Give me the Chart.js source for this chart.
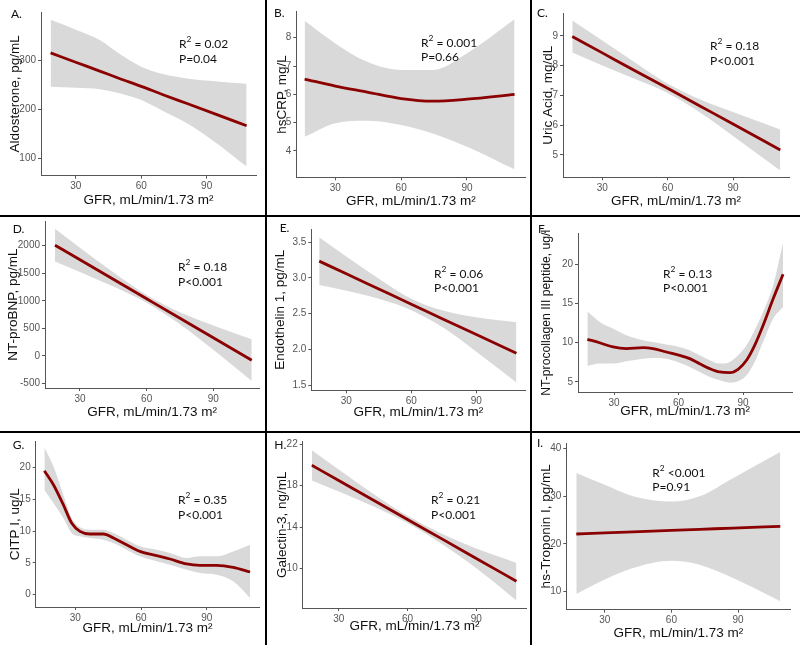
<!DOCTYPE html>
<html>
<head>
<meta charset="utf-8">
<script src="https://cdn.jsdelivr.net/npm/chart.js@4.4.1/dist/chart.umd.min.js"></script>
<style>
  body { margin: 0; background: #fff; width: 800px; height: 645px; position: relative; overflow: hidden; }
  .cell { position: absolute; }
  .cell canvas { display: block; }
  .rule { position: absolute; background: #000; }
  .note { position: absolute; font-family: Lato, 'Open Sans', sans-serif; font-size: 12px; color: #111;
          line-height: 14px; white-space: nowrap; transform: translateY(-50%); }
  .note sup { font-size: 70%; line-height: 0; position: relative; top: -0.1em; vertical-align: super; }
</style>
</head>
<body>
<script>
const gfrTicks = [30, 60, 90];

// A. Aldosterone
const gfrA = [18.5, 30, 41, 50, 60, 70, 81, 95, 108.3];
const fitA = [315, 296, 278, 263, 247, 230, 212, 189, 167];
const hiA = [382, 362, 341, 313, 287, 272, 263, 257, 252];
const loA = [246, 244, 241, 233, 219, 197, 172, 130, 84];
const yTicksA = [100, 200, 300];

// B. hsCRP
const gfrB = [16, 30, 44.5, 60, 74.4, 90, 111.7];
const fitB = [6.54, 6.29, 6.08, 5.85, 5.76, 5.83, 6.0];
const hiB = [8.6, 7.8, 7.15, 6.86, 6.86, 7.45, 8.65];
const loB = [4.5, 4.98, 5.07, 4.92, 4.62, 4.15, 3.35];
const yTicksB = [4, 5, 6, 7, 8];

// C. Uric acid
const gfrC = [16.2, 30, 45, 60, 75, 90, 111.7];
const fitC = [8.98, 8.43, 7.83, 7.24, 6.64, 6.04, 5.17];
const hiC = [9.52, 8.85, 8.11, 7.40, 6.86, 6.44, 5.86];
const loC = [8.44, 8.01, 7.55, 7.08, 6.42, 5.64, 4.48];
const yTicksC = [5, 6, 7, 8, 9];

// D. NT-proBNP
const gfrD = [18.75, 30, 45, 60, 75, 90, 107.3];
const fitD = [2010, 1744, 1390, 1036, 682, 328, -80];
const hiD = [2310, 1965, 1520, 1105, 790, 550, 300];
const loD = [1715, 1525, 1260, 965, 575, 110, -460];
const yTicksD = [-500, 0, 500, 1000, 1500, 2000];

// E. Endothelin 1
const gfrE = [17.5, 30, 45, 60, 75, 90, 108.5];
const fitE = [3.235, 3.058, 2.846, 2.634, 2.42, 2.21, 1.947];
const hiE = [3.57, 3.30, 2.99, 2.71, 2.54, 2.45, 2.38];
const loE = [2.90, 2.82, 2.71, 2.55, 2.30, 1.97, 1.54];
const yTicksE = [1.5, 2.0, 2.5, 3.0, 3.5];

// F. NT-procollagen III peptide
const gfrF = [17.6, 23.3, 29.5, 35.7, 43.5, 48.1, 54.3, 60.5, 65.2, 69.8, 74.5, 79.1, 83.8, 87.7, 91.6, 95.4, 99.3, 104, 108.6];
const fitF = [10.44, 10.0, 9.46, 9.25, 9.37, 9.25, 8.82, 8.4, 7.97, 7.33, 6.7, 6.27, 6.19, 6.61, 7.76, 9.67, 12.2, 15.6, 18.73];
const hiF = [14.0, 12.65, 11.8, 10.95, 10.31, 10.1, 9.76, 9.46, 9.04, 8.4, 7.76, 7.34, 7.55, 8.4, 9.67, 11.59, 13.92, 17.32, 22.76];
const loF = [7.04, 7.34, 7.34, 7.63, 7.97, 8.06, 7.97, 7.46, 6.91, 6.27, 5.64, 5.21, 4.91, 5.08, 5.85, 7.55, 10.1, 13.07, 14.56];
const yTicksF = [5, 10, 15, 20];

// G. CITP I
const gfrG = [15.85, 20, 24.5, 28.3, 32.1, 36.7, 42.8, 47.4, 53.4, 59.5, 67.1, 73.2, 80.8, 86.9, 94.5, 102.1, 109.8];
const fitG = [19.48, 17.28, 14.14, 11.26, 9.95, 9.53, 9.53, 8.9, 7.85, 6.81, 6.13, 5.6, 4.82, 4.61, 4.61, 4.29, 3.56];
const hiG = [23.14, 20.16, 15.7, 12.04, 10.58, 10.21, 10.21, 9.69, 8.64, 7.59, 7.07, 6.54, 5.76, 6.02, 6.02, 6.8, 7.85];
const loG = [16.5, 14.4, 12.04, 9.69, 9.16, 8.9, 8.64, 8.12, 7.07, 6.02, 5.24, 4.71, 3.93, 3.4, 3.14, 2.1, -0.52];
const yTicksG = [0, 5, 10, 15, 20];

// H. Galectin-3
const gfrH = [18.3, 30, 45, 60, 75, 90, 107.5];
const fitH = [19.95, 18.49, 16.62, 14.74, 12.87, 10.99, 8.8];
const hiH = [21.4, 19.54, 17.22, 15.09, 13.37, 11.94, 10.56];
const loH = [18.5, 17.44, 16.02, 14.39, 12.37, 10.04, 6.94];
const yTicksH = [10, 14, 18, 22];

// I. hs-Troponin I
const gfrI = [17.2, 30, 42.7, 60, 72.7, 87.7, 109];
const fitI = [22.06, 22.29, 22.51, 22.82, 23.04, 23.31, 23.67];
const hiI = [34.9, 32.4, 30.0, 28.9, 30.0, 33.8, 39.3];
const loI = [9.45, 12.46, 14.9, 16.45, 15.6, 12.8, 7.9];
const yTicksI = [10, 20, 30, 40];

const panelLetters = ['A.', 'B.', 'C.', 'D.', 'E.', 'F.', 'G.', 'H.', 'I.'];
const yTitles = ['Aldosterone, pg/mL', 'hsCRP, mg/L', 'Uric Acid, mg/dL', 'NT-proBNP, pg/mL',
  'Endothelin 1, pg/mL', 'NT-procollagen III peptide, ug/l', 'CITP I, ug/L', 'Galectin-3, ng/mL', 'hs-Troponin I, pg/mL'];
const xTitle = 'GFR, mL/min/1.73 m²';
const r2Text = [' = 0.02', ' = 0.001', ' = 0.18', ' = 0.18', ' = 0.06', ' = 0.13', ' = 0.35', ' = 0.21', ' <0.001'];
const pText = ['P=0.04', 'P=0.66', 'P<0.001', 'P<0.001', 'P<0.001', 'P<0.001', 'P<0.001', 'P<0.001', 'P=0.91'];

const series = [
  { gfr: gfrA, fit: fitA, hi: hiA, lo: loA, yTicks: yTicksA },
  { gfr: gfrB, fit: fitB, hi: hiB, lo: loB, yTicks: yTicksB },
  { gfr: gfrC, fit: fitC, hi: hiC, lo: loC, yTicks: yTicksC },
  { gfr: gfrD, fit: fitD, hi: hiD, lo: loD, yTicks: yTicksD },
  { gfr: gfrE, fit: fitE, hi: hiE, lo: loE, yTicks: yTicksE, dec: 1 },
  { gfr: gfrF, fit: fitF, hi: hiF, lo: loF, yTicks: yTicksF },
  { gfr: gfrG, fit: fitG, hi: hiG, lo: loG, yTicks: yTicksG },
  { gfr: gfrH, fit: fitH, hi: hiH, lo: loH, yTicks: yTicksH },
  { gfr: gfrI, fit: fitI, hi: hiI, lo: loI, yTicks: yTicksI }
];

// page layout: cell box, plot area [left, top, right, bottom], axis ranges, title/text anchors
const frames = [
  { cell: [0, 0, 265, 214], area: [41, 12, 256, 175.7], xr: [14.1, 112.6], yr: [65.4, 398], yt: 15, xt: 200, r2: [179, 44], p: [179, 59], lab: [11, 14] },
  { cell: [267, 0, 262, 214], area: [296.3, 11.7, 525.3, 177.3], xr: [12.2, 116.6], yr: [3.07, 8.92], yt: 282, xt: 201.7, r2: [421, 42.7], p: [421, 57.3], lab: [274, 12.7] },
  { cell: [531, 0, 269, 214], area: [563, 13.3, 789, 177.3], xr: [11.95, 115.7], yr: [4.25, 9.76], yt: 548, xt: 201.7, r2: [710, 45.7], p: [710, 61], lab: [537, 13.3] },
  { cell: [0, 217, 265, 213], area: [45, 221.3, 259.3, 388], xr: [14.25, 110.7], yr: [-585, 2444], yt: 13.3, xt: 412, r2: [178, 267], p: [178, 282], lab: [12.7, 229] },
  { cell: [267, 217, 262, 213], area: [311.3, 229.3, 525.3, 390.3], xr: [13.85, 112.6], yr: [1.43, 3.68], yt: 280.3, xt: 412, r2: [434, 273.7], p: [434, 288], lab: [279.7, 227.7] },
  { cell: [531, 217, 269, 213], area: [578, 233.7, 792.3, 392], xr: [13.25, 112.9], yr: [3.72, 23.9], yt: 546.3, xt: 411.3, r2: [663, 273.7], p: [663, 288], lab: [538, 229], yfs: 12.2 },
  { cell: [0, 433, 265, 212], area: [35.7, 441.3, 259.3, 607], xr: [11.9, 114], yr: [-1.94, 24.1], yt: 15, xt: 628.7, r2: [178, 499.7], p: [178, 514.7], lab: [12.7, 445.3] },
  { cell: [267, 433, 262, 212], area: [302.7, 441.3, 526.3, 608], xr: [14.3, 111.8], yr: [6.22, 22.26], yt: 282, xt: 626.3, r2: [431, 500.3], p: [431, 514.7], lab: [274.3, 444.7] },
  { cell: [531, 433, 269, 212], area: [566.3, 443, 790.3, 609.7], xr: [12.7, 113.5], yr: [6.13, 41.2], yt: 546.3, xt: 633, r2: [652.3, 473], p: [652.3, 487.3], lab: [537, 443.3] }
];

const axisColor = '#555';
const tickFont = { family: "'Liberation Sans', Arial, sans-serif", size: 10 };
const titleSize = 13.5;

function addNote(html, x, y) {
  const d = document.createElement('div');
  d.className = 'note';
  d.innerHTML = html;
  d.style.left = x + 'px';
  d.style.top = y + 'px';
  document.body.appendChild(d);
}

function makePanel(i) {
  const s = series[i];
  const f = frames[i];
  const [cx, cy, cw, ch] = f.cell;
  const [L, T, R, B] = f.area;
  const yfs = f.yfs || titleSize;

  const wrap = document.createElement('div');
  wrap.className = 'cell';
  wrap.style.left = cx + 'px';
  wrap.style.top = cy + 'px';
  const canvas = document.createElement('canvas');
  canvas.width = cw;
  canvas.height = ch;
  wrap.appendChild(canvas);
  document.body.appendChild(wrap);

  const pts = arr => s.gfr.map((x, k) => ({ x: x, y: arr[k] }));

  new Chart(canvas, {
    type: 'line',
    data: {
      datasets: [
        { data: pts(s.fit), borderColor: '#8b0000', borderWidth: 2.8, pointRadius: 0, fill: false, cubicInterpolationMode: 'monotone' },
        { data: pts(s.hi), borderColor: 'rgba(0,0,0,0)', borderWidth: 0, pointRadius: 0, fill: '+1', backgroundColor: '#d9d9d9', cubicInterpolationMode: 'monotone' },
        { data: pts(s.lo), borderColor: 'rgba(0,0,0,0)', borderWidth: 0, pointRadius: 0, fill: false, cubicInterpolationMode: 'monotone' }
      ]
    },
    options: {
      responsive: false,
      animation: false,
      devicePixelRatio: 1,
      events: [],
      layout: { padding: { left: 0, top: T - cy, right: cx + cw - R, bottom: 0 } },
      plugins: { legend: { display: false }, tooltip: { enabled: false } },
      scales: {
        x: {
          type: 'linear',
          min: f.xr[0],
          max: f.xr[1],
          bounds: 'data',
          afterBuildTicks: sc => { sc.ticks = gfrTicks.map(v => ({ value: v })); },
          afterFit: sc => { sc.height = cy + ch - B; sc.paddingLeft = 0; sc.paddingRight = 0; },
          border: { display: true, color: axisColor, width: 1 },
          grid: { drawOnChartArea: false, drawTicks: true, tickLength: 3, color: axisColor },
          ticks: { font: tickFont, color: '#555', padding: 2, maxRotation: 0, autoSkip: false },
          title: {
            display: true, text: xTitle, color: '#111',
            font: { family: "'Liberation Sans', Arial, sans-serif", size: titleSize, lineHeight: 1.2 },
            padding: { top: 0, bottom: cy + ch - f.xt - titleSize * 0.6 }
          }
        },
        y: {
          type: 'linear',
          min: f.yr[0],
          max: f.yr[1],
          bounds: 'data',
          afterBuildTicks: sc => { sc.ticks = s.yTicks.map(v => ({ value: v })); },
          afterFit: sc => { sc.width = L - cx; sc.paddingTop = 0; sc.paddingBottom = 0; },
          border: { display: true, color: axisColor, width: 1 },
          grid: { drawOnChartArea: false, drawTicks: true, tickLength: 3, color: axisColor },
          ticks: {
            font: tickFont, color: '#555', padding: 2, autoSkip: false,
            callback: v => s.dec ? v.toFixed(s.dec) : String(v)
          },
          title: {
            display: true, text: yTitles[i], color: '#111',
            font: { family: "'Liberation Sans', Arial, sans-serif", size: yfs, lineHeight: 1.2 },
            padding: { top: f.yt - cx - yfs * 0.6, bottom: 0 }
          }
        }
      }
    }
  });

  addNote(panelLetters[i], f.lab[0], f.lab[1]);
  addNote('R<sup>2</sup>' + r2Text[i], f.r2[0], f.r2[1]);
  addNote(pText[i], f.p[0], f.p[1]);
}

for (let i = 0; i < series.length; i++) makePanel(i);

// panel dividers
[[265, 0, 2, 645], [529.5, 0, 2, 645], [0, 214.5, 800, 2], [0, 430.8, 800, 2]].forEach(r => {
  const d = document.createElement('div');
  d.className = 'rule';
  d.style.left = r[0] + 'px';
  d.style.top = r[1] + 'px';
  d.style.width = r[2] + 'px';
  d.style.height = r[3] + 'px';
  document.body.appendChild(d);
});
</script>
</body>
</html>
